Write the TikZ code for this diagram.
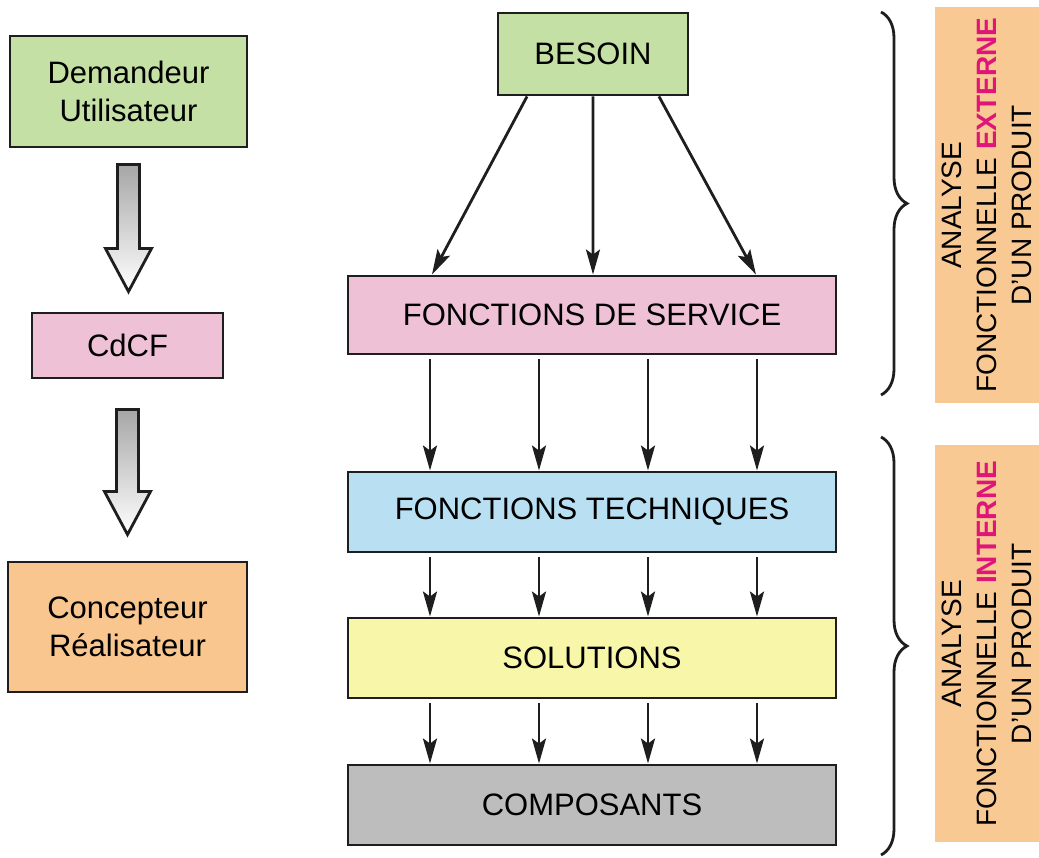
\documentclass[tikz,border=0pt]{standalone}
\usepackage{fontspec}
\setmainfont{Liberation Sans}
\usetikzlibrary{arrows.meta,calc,decorations.pathreplacing}

\definecolor{cgreen}{HTML}{C5E0A5}
\definecolor{cpink}{HTML}{EFC1D7}
\definecolor{corange}{HTML}{F8C68E}
\definecolor{cpanel}{HTML}{F9C993}
\definecolor{cblue}{HTML}{B8E0F2}
\definecolor{cyellow}{HTML}{F8F6A8}
\definecolor{cgray}{HTML}{BDBDBD}
\definecolor{cmagenta}{HTML}{E0157A}
\definecolor{cline}{HTML}{1E1E1E}

\tikzset{
  box/.style={draw=cline, line width=2.9pt, inner sep=0pt, align=center,
              font=\fontsize{31}{38}\selectfont},
  flow/.style={draw=cline, line width=2.8pt,
               -{Stealth[length=25pt,width=14pt,inset=5pt]}},
  hollowarr/.style={draw=cline, line width=2.8pt, line join=miter,
                    top color=black!35, bottom color=white},
  bracket/.style={draw=cline, line width=2.8pt,
                  decorate, decoration={brace, amplitude=26pt, aspect=0.5}},
  panel/.style={fill=cpanel, draw=none, inner sep=0pt},
  sidelabel/.style={rotate=90, align=center,
                    font=\fontsize{28}{35}\selectfont}
}

% wide outlined arrow from the bottom of #1 to the top of #2,
% leaving a gap #3 below #1 and a gap #4 above #2
\newcommand\hollowarrow[4]{%
  \path[hollowarr] let \p1=(#1.south), \p2=(#2.north) in
    (\x1-11pt,\y1-#3) -- (\x1-11pt,\y2+#4+43pt) -- (\x1-23pt,\y2+#4+43pt)
    -- (\x1,\y2+#4) -- (\x1+23pt,\y2+#4+43pt) -- (\x1+11pt,\y2+#4+43pt)
    -- (\x1+11pt,\y1-#3) -- cycle;}

\begin{document}
\begin{tikzpicture}[x=1pt,y=-1pt]
\useasboundingbox (0,0) rectangle (1039,858);

% actors on the left
\node[box, fill=cgreen, minimum width=237pt, minimum height=111pt]
  (dem) at (128.5,91.5) {Demandeur\\Utilisateur};
\node[box, fill=cpink, minimum width=191pt, minimum height=65pt]
  (cdcf) at (127.5,345.5) {CdCF};
\node[box, fill=corange, minimum width=239pt, minimum height=130pt]
  (conc) at (127.5,627) {Concepteur\\Réalisateur};

\hollowarrow{dem}{cdcf}{16pt}{20pt}
\hollowarrow{cdcf}{conc}{30pt}{26pt}

% main chain
\node[box, fill=cgreen, minimum width=190pt, minimum height=82pt]
  (besoin) at (593,54) {BESOIN};
\node[box, fill=cpink, minimum width=488pt, minimum height=78pt]
  (serv) at (592,315) {FONCTIONS DE SERVICE};
\node[box, fill=cblue, minimum width=488pt, minimum height=80pt]
  (tech) at (592,512) {FONCTIONS TECHNIQUES};
\node[box, fill=cyellow, minimum width=488pt, minimum height=80pt]
  (sol) at (592,658) {SOLUTIONS};
\node[box, fill=cgray, minimum width=488pt, minimum height=80pt]
  (comp) at (592,805) {COMPOSANTS};

% need -> service functions
\draw[flow] ($(besoin.south west)!0.158!(besoin.south east)$)
         -- ($(serv.north west)!0.174!(serv.north east)$);
\draw[flow] ($(besoin.south west)!0.5!(besoin.south east)$)
         -- ($(serv.north west)!0.502!(serv.north east)$);
\draw[flow] ($(besoin.south west)!0.842!(besoin.south east)$)
         -- ($(serv.north west)!0.834!(serv.north east)$);

% four parallel links between successive levels
\foreach \a/\b in {serv/tech, tech/sol, sol/comp}
  \foreach \d in {-162,-53,56,165}
    \draw[flow, shorten <=4pt] ([xshift=\d pt]\a.south) -- ([xshift=\d pt]\b.north);

% braces
\coordinate (b1t) at (881,12);
\coordinate (b1b) at (881,395);
\coordinate (b2t) at (881,437);
\coordinate (b2b) at (881,855);
\draw[bracket] (b1t) -- (b1b);
\draw[bracket] (b2t) -- (b2b);

% side panels
\node[panel, minimum width=104pt, minimum height=396pt, anchor=north west]
  (pext) at (935,7) {};
\node[panel, minimum width=104pt, minimum height=397pt, anchor=north west]
  (pint) at (935,445) {};
\node[sidelabel] at (pext.center)
  {ANALYSE\\FONCTIONNELLE \textcolor{cmagenta}{\textbf{EXTERNE}}\\D'UN PRODUIT};
\node[sidelabel] at (pint.center)
  {ANALYSE\\FONCTIONNELLE \textcolor{cmagenta}{\textbf{INTERNE}}\\D'UN PRODUIT};
\end{tikzpicture}
\end{document}
